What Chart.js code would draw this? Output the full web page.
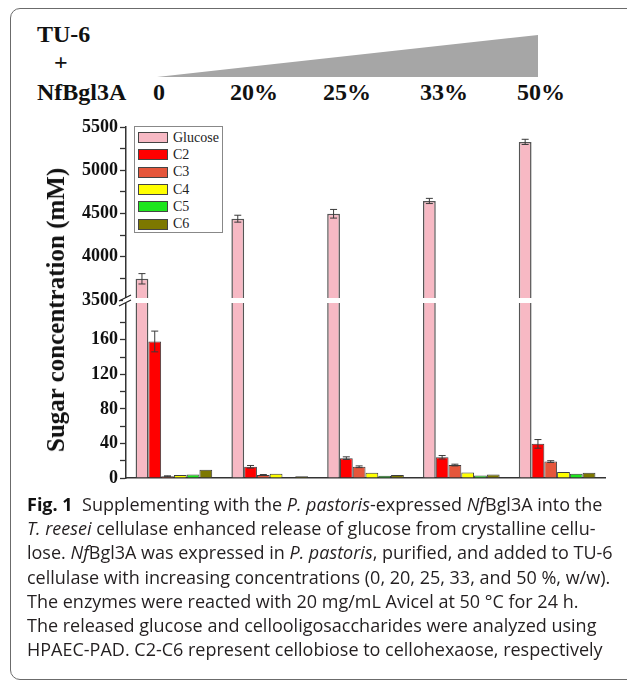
<!DOCTYPE html>
<html>
<head>
<meta charset="utf-8">
<script src="https://cdn.jsdelivr.net/npm/chart.js@4.4.1/dist/chart.umd.min.js"></script>
<style>
html, body { margin: 0; padding: 0; background: #fff; }
body { width: 627px; height: 683px; position: relative; overflow: hidden; }
#frame { position: absolute; left: 10px; top: 8px; width: 640px; height: 672px; border: 1.5px solid #6b6b6b; border-radius: 10px; box-sizing: border-box; }
.hd { position: absolute; font: bold 24px "Liberation Serif", serif; line-height: 24px; color: #111; white-space: nowrap; }
#wedge { position: absolute; left: 0; top: 0; }
#chart { position: absolute; left: 0; top: 0; }
#ytitle { position: absolute; left: 56px; top: 310px; transform: translate(-50%, -50%) rotate(-90deg); font: bold 25px "Liberation Serif", serif; color: #111; white-space: nowrap; }
#legend { position: absolute; left: 134px; top: 126px; width: 89px; height: 107px; border: 1px solid #888; background: #fff; box-sizing: border-box; padding-top: 2px; font: 14px "Liberation Serif", serif; color: #222; }
#legend .row { height: 17.3px; display: flex; align-items: center; }
#legend .sw { width: 30px; height: 11px; margin: 0 5px 0 3px; border: 1px solid #444; box-sizing: border-box; }
#caption { position: absolute; left: 27px; top: 492px; font: 18px "Open Sans", sans-serif; line-height: 24.2px; color: #231f20; white-space: nowrap; }
#caption b { color: #111; }
</style>
</head>
<body>
<div id="frame"></div>
<svg id="wedge" width="627" height="110"><polygon points="157,77 538,35 538,77" fill="#a6a6a6"/></svg>
<div class="hd" style="left:37px;top:22px">TU-6</div>
<div class="hd" style="left:54px;top:50px">+</div>
<div class="hd" style="left:37px;top:80px">NfBgl3A</div>
<div id="pct"></div>
<canvas id="chart" width="627" height="683"></canvas>
<div id="ytitle">Sugar concentration (mM)</div>
<div id="legend"></div>
<div id="caption">
<b>Fig. 1</b>&nbsp; Supplementing with the <i>P. pastoris</i>-expressed <i>Nf</i>Bgl3A into the<br>
<i>T. reesei</i> cellulase enhanced release of glucose from crystalline cellu-<br>
lose. <i>Nf</i>Bgl3A was expressed in <i>P. pastoris</i>, purified, and added to TU-6<br>
cellulase with increasing concentrations (0, 20, 25, 33, and 50 %, w/w).<br>
The enzymes were reacted with 20 mg/mL Avicel at 50 °C for 24 h.<br>
The released glucose and cellooligosaccharides were analyzed using<br>
HPAEC-PAD. C2-C6 represent cellobiose to cellohexaose, respectively
</div>
<script>
const groups = ["0", "20%", "25%", "33%", "50%"];
const groupLeft = [153, 230, 323, 420, 517];

const glucose = [3745, 4440, 4497, 4645, 5328];
const glucoseErr = [60, 40, 50, 30, 30];
const c2 = [158, 13, 23, 24, 39.5];
const c2Err = [12, 1.5, 1.5, 2, 5];
const c3 = [2, 3.5, 13, 15, 19];
const c3Err = [0.5, 0.5, 1, 1, 1];
const c4 = [3.5, 5, 6, 6.5, 7];
const c5 = [4, 0.3, 2.5, 3, 5];
const c6 = [9.5, 2, 3.5, 4, 6];

const lowTicks = [0, 40, 80, 120, 160];
const highTicks = [3500, 4000, 4500, 5000, 5500];
const LOW_MAX = 206;
const HIGH_MIN = 3500;
const HIGH_MAX = 5500;

const colors = {
  glucose: "#f7b9c4",
  c2: "#ff0000",
  c3: "#e5563b",
  c4: "#ffff00",
  c5: "#1ee61e",
  c6: "#7d7800"
};

// header percentages over the wedge
document.getElementById("pct").innerHTML = groups
  .map((g, i) => `<div class="hd" style="left:${groupLeft[i]}px;top:80px">${g}</div>`).join("");

const $ = (id) => document.getElementById(id);
const tickFont = { family: "Liberation Serif", weight: "bold", size: 18 };

function withMinor(majors) {
  const step = majors[1] - majors[0];
  const out = [];
  majors.forEach(v => { out.push(v); out.push(v + step / 2); });
  return out;
}

const errorBars = {
  id: "errorBars",
  afterDatasetsDraw(chart) {
    const ctx = chart.ctx;
    ctx.save();
    ctx.strokeStyle = "#3a3a3a";
    ctx.lineWidth = 1;
    chart.data.datasets.forEach((ds, i) => {
      if (!ds.errors) return;
      const meta = chart.getDatasetMeta(i);
      const scale = chart.scales[ds.yAxisID];
      meta.data.forEach((bar, j) => {
        const v = ds.data[j], e = ds.errors[j];
        if (!e) return;
        const yTop = scale.getPixelForValue(v + e);
        const yBot = scale.getPixelForValue(v - e);
        ctx.beginPath();
        ctx.moveTo(bar.x, yTop); ctx.lineTo(bar.x, yBot);
        ctx.moveTo(bar.x - 3.5, yTop); ctx.lineTo(bar.x + 3.5, yTop);
        ctx.moveTo(bar.x - 3.5, yBot); ctx.lineTo(bar.x + 3.5, yBot);
        ctx.stroke();
      });
    });
    ctx.restore();
  }
};

const axisBreak = {
  id: "axisBreak",
  afterDraw(chart) {
    const y = chart.scales.yHigh.bottom;
    const { left, right } = chart.chartArea;
    const ctx = chart.ctx;
    ctx.save();
    ctx.fillStyle = "#fff";
    ctx.fillRect(left + 1, y - 2, right - left, 5);
    ctx.fillRect(left - 3, y - 2, 6, 5);
    ctx.strokeStyle = "#222";
    ctx.lineWidth = 1.2;
    ctx.beginPath();
    ctx.moveTo(left - 7, y + 1); ctx.lineTo(left + 5, y - 5);
    ctx.moveTo(left - 7, y + 6); ctx.lineTo(left + 5, y);
    ctx.stroke();
    ctx.restore();
  }
};

function yAxis(majors, min, max, weight) {
  return {
    type: "linear",
    position: "left",
    stack: "y",
    stackWeight: weight,
    stacked: false,
    min, max,
    afterBuildTicks: s => { s.ticks = withMinor(majors).filter(v => v <= max).map(v => ({ value: v })); },
    afterFit: s => { s.width = 66; },
    ticks: {
      autoSkip: false,
      padding: 2,
      color: "#111",
      font: tickFont,
      callback: v => majors.includes(v) ? v : ""
    },
    grid: { drawOnChartArea: false, drawTicks: true, tickLength: 6, tickColor: "#333", tickWidth: 1.3 },
    border: { color: "#333", width: 1.5 }
  };
}

function bar(label, data, color, extra) {
  return Object.assign({
    label, data,
    yAxisID: "yLow",
    stack: label,
    backgroundColor: color,
    borderColor: "#3d3d3d",
    borderWidth: 1
  }, extra || {});
}

const chart = new Chart($("chart"), {
  type: "bar",
  data: {
    labels: groups,
    datasets: [
      bar("Glucose", glucose.map(v => Math.min(v, LOW_MAX)), colors.glucose, { stack: "glc", hideInLegend: true, borderColor: "#555", borderWidth: 1.5 }),
      bar("Glucose", glucose, colors.glucose, { yAxisID: "yHigh", stack: "glc", base: HIGH_MIN, errors: glucoseErr, borderColor: "#555", borderWidth: 1.5 }),
      bar("C2", c2, colors.c2, { errors: c2Err }),
      bar("C3", c3, colors.c3, { errors: c3Err }),
      bar("C4", c4, colors.c4),
      bar("C5", c5, colors.c5),
      bar("C6", c6, colors.c6)
    ]
  },
  options: {
    responsive: false,
    animation: false,
    devicePixelRatio: 1,
    categoryPercentage: 0.8,
    barPercentage: 1,
    layout: { padding: { left: 60, top: 127, right: 22, bottom: 205 } },
    plugins: { legend: { display: false }, tooltip: { enabled: false } },
    scales: {
      x: {
        type: "category",
        offset: true,
        grid: { display: false, drawTicks: false },
        border: { display: true, color: "#333", width: 1.5 },
        ticks: { display: false },
        afterFit: s => { s.height = 0; }
      },
      yLow: yAxis(lowTicks, 0, LOW_MAX, 178),
      yHigh: yAxis(highTicks, HIGH_MIN, HIGH_MAX, 173)
    }
  },
  plugins: [errorBars, axisBreak]
});

$("legend").innerHTML = chart.data.datasets
  .filter(d => !d.hideInLegend)
  .map(d => `<div class="row"><span class="sw" style="background:${d.backgroundColor}"></span>${d.label}</div>`)
  .join("");
</script>
</body>
</html>
